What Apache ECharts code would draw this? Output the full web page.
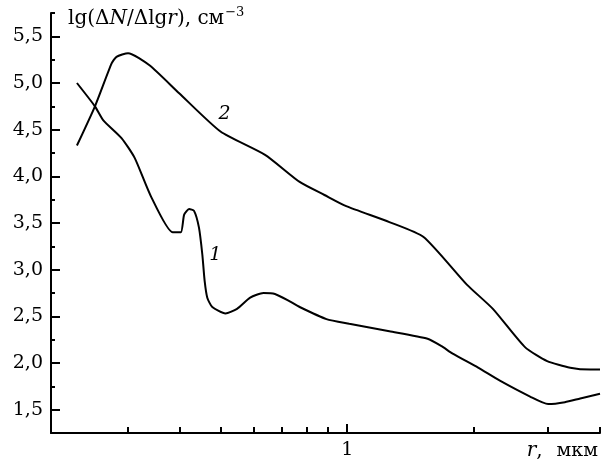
<!DOCTYPE html>
<html lang="ru">
<head>
    <meta charset="UTF-8">
    <title>lg(ΔN/Δlgr)</title>
    <script src="https://cdn.jsdelivr.net/npm/echarts@6.0.0/dist/echarts.min.js"></script>
</head>
<body style="margin:0;width:603px;height:461px">
    <div id="container" style="width:603px;height:461px"></div>
</body>
<script>
    // radius, mkm (log axis) and lg values
    var r1 = [0.2271, 0.2507, 0.2625, 0.2900, 0.3115, 0.3412, 0.3838, 0.4015, 0.4089, 0.4201, 0.4317,
              0.4435, 0.4518, 0.4575, 0.4642, 0.4771, 0.5128, 0.5464, 0.5873, 0.6315, 0.6727, 0.7297,
              0.7704, 0.8923, 1.011, 1.260, 1.554, 1.678, 1.783, 2.05, 2.310, 2.726, 3.010, 3.30, 3.589, 4.0];
    var v1 = [5.00, 4.75, 4.60, 4.41, 4.20, 3.78, 3.40, 3.40, 3.59, 3.65, 3.63,
              3.45, 3.16, 2.88, 2.70, 2.60, 2.53, 2.58, 2.70, 2.75, 2.74, 2.66,
              2.60, 2.47, 2.42, 2.34, 2.26, 2.18, 2.10, 1.95, 1.81, 1.64, 1.56, 1.58, 1.62, 1.67];

    var r2 = [0.2271, 0.2507, 0.2747, 0.2821, 0.3006, 0.3381, 0.3979, 0.4991, 0.6373, 0.7704, 0.8826,
              0.9946, 1.260, 1.520, 1.927, 2.223, 2.651, 2.993, 3.397, 3.793, 4.0];
    var v2 = [4.33, 4.75, 5.21, 5.28, 5.32, 5.19, 4.89, 4.48, 4.23, 3.94, 3.80,
              3.68, 3.51, 3.35, 2.84, 2.58, 2.17, 2.02, 1.95, 1.93, 1.93];

    var yTicks = [1.5, 2.0, 2.5, 3.0, 3.5, 4.0, 4.5, 5.0, 5.5];
    var yMinorTicks = [1.75, 2.25, 2.75, 3.25, 3.75, 4.25, 4.75, 5.25, 5.75];
    var xTicks = [0.3, 0.4, 0.5, 0.6, 0.7, 0.8, 0.9, 2, 3, 4];
    var xLabels = [1];

    var font = 'DejaVu Serif';

    function pairs(xs, ys, labelIdx, text, offset) {
        return xs.map(function (x, i) {
            var item = { value: [x, ys[i]] };
            if (i === labelIdx) {
                item.label = {
                    show: true, formatter: text, position: 'inside', offset: offset,
                    fontFamily: font, fontStyle: 'italic', fontSize: 19, color: '#000'
                };
            }
            return item;
        });
    }

    var dom = document.getElementById("container");
    var myChart = echarts.init(dom);

    var axisLine = { show: true, lineStyle: { color: '#000', width: 2 } };

    option = {
        animation: false,
        grid: { left: 51, right: 3, top: 13, bottom: 26 },
        xAxis: [{
            type: 'log', logBase: 10, min: 0.197, max: 4, position: 'bottom',
            axisLine: axisLine,
            splitLine: { show: false },
            axisTick: { inside: true, length: 6, customValues: xTicks, lineStyle: { width: 2, color: '#000' } },
            axisLabel: { customValues: xLabels, margin: 8, fontFamily: font, fontSize: 19, color: '#000' },
            name: '{i|r}{p|,}{n|мкм}',
            nameLocation: 'end',
            nameGap: 0,
            nameTextStyle: {
                align: 'right', verticalAlign: 'top', padding: [8, 2, 0, 0],
                rich: {
                    i: { fontFamily: font, fontStyle: 'italic', fontSize: 20, color: '#000' },
                    p: { fontFamily: font, fontSize: 20, color: '#000' },
                    n: { fontFamily: font, fontSize: 19, color: '#000', padding: [0, 0, 0, 14] }
                }
            }
        }, {
            type: 'log', logBase: 10, min: 0.197, max: 4, position: 'bottom',
            axisLine: { show: false },
            splitLine: { show: false },
            axisTick: { inside: true, length: 9, customValues: xLabels, lineStyle: { width: 2, color: '#000' } },
            axisLabel: { show: false }
        }],
        yAxis: [{
            type: 'value', min: 1.25, max: 5.75,
            axisLine: axisLine,
            splitLine: { show: false },
            axisTick: { inside: true, length: 9, customValues: yTicks, lineStyle: { width: 2, color: '#000' } },
            axisLabel: {
                customValues: yTicks, margin: 8, fontFamily: font, fontSize: 19, color: '#000',
                formatter: function (v) { return v.toFixed(1).replace('.', ','); }
            },
            name: '{a|lg(Δ}{i|N}{a|/Δlg}{i|r}{a|), см}{s|−3}',
            nameLocation: 'end',
            nameGap: -6,
            nameTextStyle: {
                align: 'left', verticalAlign: 'middle', padding: [0, 0, 0, 17],
                rich: {
                    a: { fontFamily: font, fontSize: 20, color: '#000' },
                    i: { fontFamily: font, fontStyle: 'italic', fontSize: 20, color: '#000' },
                    s: { fontFamily: font, fontSize: 13, color: '#000', padding: [0, 0, 12, 1] }
                }
            }
        }, {
            type: 'value', min: 1.25, max: 5.75, position: 'left', offset: 0,
            axisLine: { show: false },
            splitLine: { show: false },
            axisTick: { show: true, inside: true, length: 4, customValues: yMinorTicks, lineStyle: { width: 2, color: '#000' } },
            axisLabel: { show: false }
        }],
        series: [{
            type: 'line',
            data: pairs(r1, v1, 12, '1', [13, 0]),
            symbol: 'circle', symbolSize: 0, showSymbol: true,
            smooth: 0.2,
            lineStyle: { color: '#000', width: 2 },
            itemStyle: { color: '#000' }
        }, {
            type: 'line',
            data: pairs(r2, v2, 7, '2', [4, -17]),
            symbol: 'circle', symbolSize: 0, showSymbol: true,
            smooth: 0.2,
            lineStyle: { color: '#000', width: 2 },
            itemStyle: { color: '#000' }
        }]
    };

    if (option && typeof option === "object") {
        myChart.setOption(option, true);
    }
</script>
</html>
